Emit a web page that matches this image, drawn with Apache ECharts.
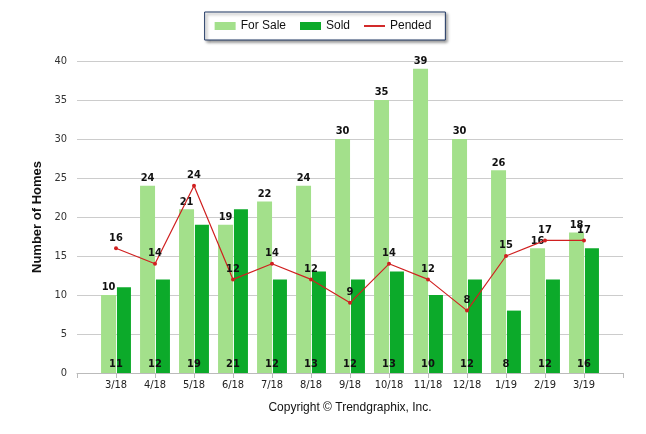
<!DOCTYPE html>
<html>
<head>
<meta charset="utf-8">
<script src="https://cdn.jsdelivr.net/npm/echarts@6/dist/echarts.min.js"></script>
<style>
  html, body { margin: 0; padding: 0; background: #fff; }
  #chart { width: 646px; height: 434px; }
</style>
</head>
<body>
<div id="chart"></div>
<script>
// monthly values
var months = ['3/18', '4/18', '5/18', '6/18', '7/18', '8/18', '9/18', '10/18', '11/18', '12/18', '1/19', '2/19', '3/19'];
var forSale = [10, 24, 21, 19, 22, 24, 30, 35, 39, 30, 26, 16, 18];
var sold = [11, 12, 19, 21, 12, 13, 12, 13, 10, 12, 8, 12, 16];
var pended = [16, 14, 24, 12, 14, 12, 9, 14, 12, 8, 15, 17, 17];
var yTicks = [0, 5, 10, 15, 20, 25, 30, 35, 40];

// the axis has an empty slot on each end
function pad(arr, blank){
    return [blank].concat(arr, [blank]);
}

var labelFont = {
    fontFamily: 'DejaVu Sans Condensed',
    fontWeight: 'bold',
    fontSize: 11,
    color: '#111'
};

var myChart = echarts.init(document.getElementById('chart'));
var option = {
    animation: false,
    textStyle: { fontFamily: 'DejaVu Sans Condensed' },
    legend: {
        top: 12,
        left: 'center',
        padding: [8, 14, 8, 10],
        itemGap: 14,
        itemWidth: 21,
        itemHeight: 8,
        borderColor: '#203864',
        borderWidth: 1,
        backgroundColor: '#fff',
        shadowColor: 'rgba(0,0,0,0.45)',
        shadowBlur: 3,
        shadowOffsetX: 2,
        shadowOffsetY: 2,
        textStyle: { fontFamily: 'Liberation Sans', fontSize: 12, color: '#111' },
        data: [
            { name: 'For Sale', icon: 'rect' },
            { name: 'Sold', icon: 'rect' },
            { name: 'Pended', icon: 'path://M0 0H22V2H0Z' }
        ]
    },
    grid: { left: 77, right: 23, top: 61, bottom: 61 },
    xAxis: {
        type: 'category',
        boundaryGap: false,
        data: pad(months, ''),
        axisLine: { lineStyle: { color: '#bbb' } },
        axisTick: { length: 5, lineStyle: { color: '#bbb' } },
        axisLabel: { color: '#222', fontSize: 11, margin: 7 }
    },
    yAxis: {
        type: 'value',
        min: yTicks[0],
        max: yTicks[yTicks.length - 1],
        interval: 5,
        name: 'Number of Homes',
        nameLocation: 'middle',
        nameGap: 33,
        nameTextStyle: { fontFamily: 'Liberation Sans', fontWeight: 'bold', fontSize: 13, color: '#111' },
        axisLine: { show: false },
        axisTick: { show: false },
        axisLabel: { color: '#333', fontSize: 11, margin: 10 },
        splitLine: { lineStyle: { color: '#ccc' } }
    },
    series: [
        {
            name: 'For Sale',
            type: 'bar',
            data: pad(forSale, null),
            barWidth: 15,
            barGap: '6%',
            itemStyle: { color: '#a3e08b' },
            label: Object.assign({ show: true, position: 'top', distance: 2 }, labelFont)
        },
        {
            name: 'Sold',
            type: 'bar',
            data: pad(sold, null),
            barWidth: 14,
            itemStyle: { color: '#0caa2a' },
            label: Object.assign({ show: true, position: 'insideBottom', distance: 3, offset: [-8, 0] }, labelFont)
        },
        {
            name: 'Pended',
            type: 'line',
            data: pad(pended, null),
            symbol: 'circle',
            symbolSize: 4,
            lineStyle: { color: '#d02020', width: 1.2 },
            itemStyle: { color: '#d02020' },
            label: Object.assign({ show: true, position: 'top', distance: 3 }, labelFont),
            z: 5
        }
    ],
    graphic: [
        {
            type: 'text',
            x: 350,
            y: 402,
            style: {
                text: 'Copyright \u00a9 Trendgraphix, Inc.',
                textAlign: 'center',
                fontFamily: 'Liberation Sans',
                fontSize: 12,
                fill: '#111'
            }
        }
    ]
};
myChart.setOption(option);
</script>
</body>
</html>
